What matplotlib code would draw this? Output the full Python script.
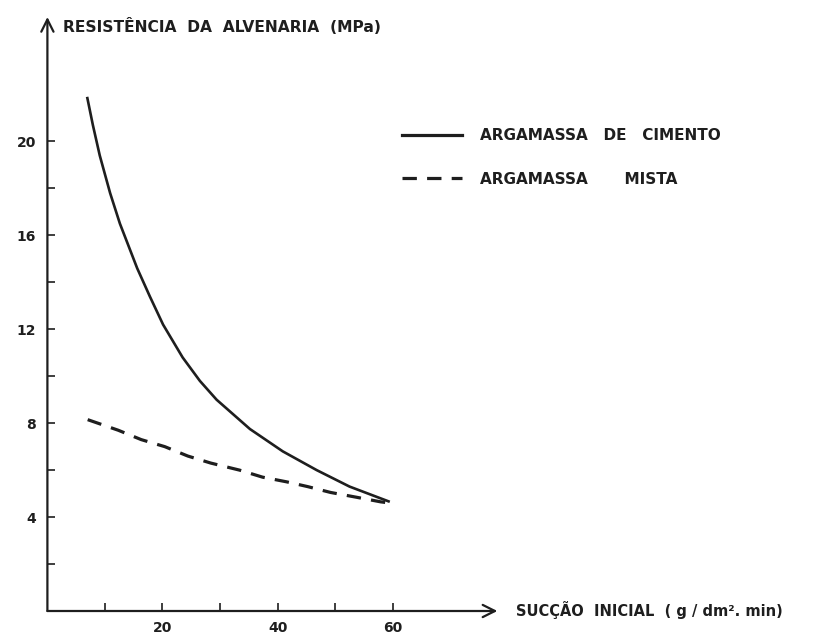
import matplotlib
matplotlib.use('Agg')
import matplotlib.pyplot as plt
from matplotlib.lines import Line2D

# values
cimento_x = [6.9, 7.9, 9.1, 10.9, 12.6, 15.6, 17.8, 20.1, 23.5, 26.5, 29.4, 35.2, 40.9, 46.8, 52.5, 59.5]
cimento_y = [21.9, 20.7, 19.4, 17.8, 16.5, 14.6, 13.4, 12.2, 10.8, 9.8, 9.0, 7.75, 6.8, 6.0, 5.3, 4.65]

mista_x = [7.0, 12.3, 16.3, 20.4, 24.4, 28.4, 33.4, 37.4, 41.6, 45.2, 49.2, 53.6, 57.9, 59.5]
mista_y = [8.15, 7.7, 7.3, 7.0, 6.6, 6.3, 6.0, 5.7, 5.5, 5.3, 5.05, 4.85, 4.65, 4.6]

x_major = [20, 40, 60]
x_minor = [10, 30, 50]
y_major = [4, 8, 12, 16, 20]
y_minor = [2, 6, 10, 14, 18]

ink = '#1e1e1e'
W, H = 815, 641

fig = plt.figure(figsize=(W / 100, H / 100), dpi=100)
ax = fig.add_axes([47.4 / W, 30 / H, 450 / W, 594 / H])
ax.set_xlim(0, 78.2)
ax.set_ylim(0, 25.3)

for s in ax.spines.values():
    s.set_visible(False)

# axes drawn as arrows
ax.annotate('', xy=(78.2, 0), xytext=(0, 0),
            arrowprops=dict(arrowstyle='->', lw=1.6, color=ink, mutation_scale=22,
                            shrinkA=0, shrinkB=0), annotation_clip=False)
ax.annotate('', xy=(0, 25.3), xytext=(0, 0),
            arrowprops=dict(arrowstyle='->', lw=1.6, color=ink, mutation_scale=22,
                            shrinkA=0, shrinkB=0), annotation_clip=False)

ax.set_xticks(x_major)
ax.set_xticks(x_minor, minor=True)
ax.set_yticks(y_major)
ax.set_yticks(y_minor, minor=True)
ax.set_xticklabels([str(v) for v in x_major], fontweight='bold', fontsize=10, color=ink)
ax.set_yticklabels([str(v) for v in y_major], fontweight='bold', fontsize=10, color=ink)
ax.tick_params(axis='both', which='both', direction='in', length=5.5, width=1.2, color=ink)
ax.tick_params(axis='x', which='major', pad=7)
ax.tick_params(axis='y', which='major', pad=8)

ax.plot(cimento_x, cimento_y, color=ink, lw=1.9, solid_capstyle='butt', solid_joinstyle='round')
ax.plot(mista_x, mista_y, color=ink, lw=2.3, dashes=(4.5, 3.2))

# legend drawn by hand, like the original drawing
fig.add_artist(Line2D([402 / W, 462 / W], [1 - 135 / H, 1 - 135 / H], color=ink, lw=2.3))
fig.add_artist(Line2D([402 / W, 462 / W], [1 - 178 / H, 1 - 178 / H], color=ink, lw=2.3,
                      dashes=(4.5, 3.2)))
fig.text(480 / W, 1 - 136 / H, 'ARGAMASSA   DE   CIMENTO', fontsize=11, fontweight='bold',
         va='center', ha='left', color=ink)
fig.text(480 / W, 1 - 179 / H, 'ARGAMASSA       MISTA', fontsize=11, fontweight='bold',
         va='center', ha='left', color=ink)

fig.text(63 / W, 1 - 26 / H, 'RESISTÊNCIA  DA  ALVENARIA  (MPa)', fontsize=11.2,
         fontweight='bold', va='center', ha='left', color=ink)
fig.text(516 / W, 1 - 610 / H, 'SUCÇÃO  INICIAL  ( g / dm². min)', fontsize=10.5,
         fontweight='bold', va='center', ha='left', color=ink)

fig.savefig('out.png', dpi=100)
